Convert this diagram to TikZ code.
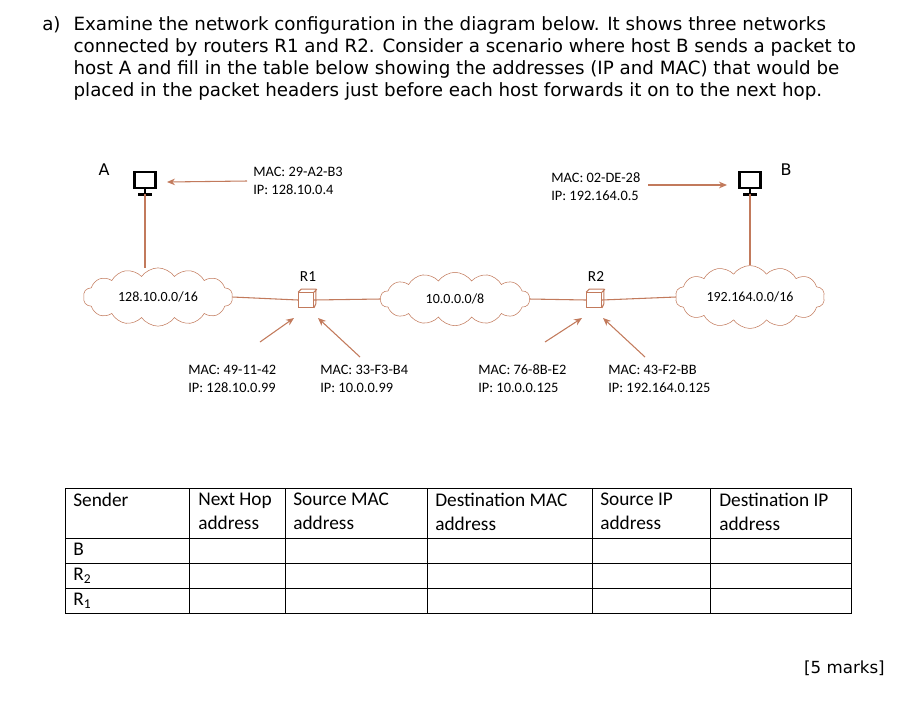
\documentclass[tikz,border=0pt]{standalone}
\usepackage{fontspec}
\setmainfont{DejaVu Sans}
\newfontfamily\labelfont{Carlito}
\usetikzlibrary{shapes.symbols,arrows.meta,positioning}
\definecolor{LBrown}{HTML}{C27A5C}
\newcommand{\qlabel}[1]{\makebox[23.5pt][l]{#1}}
\tikzset{
    net/.style = {draw=LBrown, cloud, cloud puffs=14, cloud puff arc=110, aspect=2.8,
        minimum width=112pt, minimum height=40pt, font=\labelfont\fontsize{10.5}{12}\selectfont},
    router/.style = {draw=LBrown, rectangle, minimum size=11pt, inner sep=0pt, thick},
    host/.style = {draw=black, rectangle, line width=2.2pt, minimum width=16pt, minimum height=12pt, inner sep=0pt},
    addr/.style = {anchor=west, align=left, inner sep=0pt, font=\labelfont\fontsize{10.8}{13.5}\selectfont},
    link/.style = {draw=LBrown, thick},
    arrow/.style = {draw=LBrown, thick, -{Stealth[length=6pt,width=5pt]}},
    cell/.style = {anchor=north west, align=left, inner sep=0pt, font=\labelfont\fontsize{14.5}{18}\selectfont}
}
\begin{document}
\begin{tikzpicture}[x=0.75pt,y=-0.75pt]
    \useasboundingbox (0,0) rectangle (912,701);
    \node[anchor=north west, align=left, inner sep=0pt, font=\fontsize{13.7}{16.5}\selectfont] (task) at (42,16)
        {\qlabel{a)}Examine the network configuration in the diagram below. It shows three networks\\
        \qlabel{}connected by routers R1 and R2. Consider a scenario where host B sends a packet to\\
        \qlabel{}host A and fill in the table below showing the addresses (IP and MAC) that would be\\
        \qlabel{}placed in the packet headers just before each host forwards it on to the next hop.};
    % hosts
    \node[host] (hA) at (145,180) {};
    \draw[line width=2.2pt] (hA.south) -- ++(0,5) coordinate (hAb);
    \draw[line width=2.2pt] ([xshift=-5pt]hAb) -- ([xshift=5pt]hAb);
    \node[font=\fontsize{12}{12}\selectfont] (lA) at (104,170) {A};
    \node[host] (hB) at (750,180) {};
    \draw[line width=2.2pt] (hB.south) -- ++(0,5) coordinate (hBb);
    \draw[line width=2.2pt] ([xshift=-5pt]hBb) -- ([xshift=5pt]hBb);
    \node[font=\fontsize{12}{12}\selectfont] (lB) at (786,170) {B};
    % networks
    \node[net] (n1) at (158,297) {128.10.0.0/16};
    \node[net] (n2) at (455,299) {10.0.0.0/8};
    \node[net] (n3) at (750,297) {192.164.0.0/16};
    % routers
    \node[router] (r1) at (306,300) {};
    \draw[LBrown, thick] (r1.north west) -- ++(3,-3) -- ++(14.7,0) -- ++(0,14.7) -- (r1.south east)
        (r1.north east) -- ++(3,-3);
    \node[font=\labelfont\fontsize{11.5}{12}\selectfont] (lr1) at (308,277) {R1};
    \node[router] (r2) at (594,300) {};
    \draw[LBrown, thick] (r2.north west) -- ++(3,-3) -- ++(14.7,0) -- ++(0,14.7) -- (r2.south east)
        (r2.north east) -- ++(3,-3);
    \node[font=\labelfont\fontsize{11.5}{12}\selectfont] (lr2) at (596,277) {R2};
    % links
    \draw[link] (hAb) -- (hAb |- n1.north);
    \draw[link] (hBb) -- (hBb |- n3.north);
    \draw[link] (n1.east) -- (r1.west);
    \draw[link] (r1.east) -- (n2.west);
    \draw[link] (n2.east) -- (r2.west);
    \draw[link] (r2.east) -- (n3.west);
    % addresses
    \node[addr] (aA) at (253,181) {MAC: 29-A2-B3\\IP: 128.10.0.4};
    \node[addr] (aB) at (551,187) {MAC: 02-DE-28\\IP: 192.164.0.5};
    \node[addr] (a1) at (188,379) {MAC: 49-11-42\\IP: 128.10.0.99};
    \node[addr] (a2) at (320,379) {MAC: 33-F3-B4\\IP: 10.0.0.99};
    \node[addr] (a3) at (478,379) {MAC: 76-8B-E2\\IP: 10.0.0.125};
    \node[addr] (a4) at (608,379) {MAC: 43-F2-BB\\IP: 192.164.0.125};
    \coordinate (pA) at (247,181);
    \coordinate (pB) at (648,185);
    \coordinate (p1) at (260,342);
    \coordinate (p2) at (360,357);
    \coordinate (p3) at (545,342);
    \coordinate (p4) at (645,357);
    \draw[arrow] (pA) -- (167,182);
    \draw[arrow] (pB) -- (727,185);
    \draw[arrow] (p1) -- (294,318);
    \draw[arrow] (p2) -- (318,318);
    \draw[arrow] (p3) -- (582,318);
    \draw[arrow] (p4) -- (603,318);
    % table
    \draw[line width=0.6pt] (65,488) rectangle (851,613);
    \foreach \y in {538,563,588} \draw[line width=0.6pt] (65,\y) -- (851,\y);
    \foreach \x in {189,285,427,592,710} \draw[line width=0.6pt] (\x,488) -- (\x,613);
    \node[cell] (c1) at (73,493) {Sender};
    \node[cell] (c2) at (198,493) {Next Hop\\address};
    \node[cell] (c3) at (293,493) {Source MAC\\address};
    \node[cell] (c4) at (435,493) {Destination MAC\\address};
    \node[cell] (c5) at (600,493) {Source IP\\address};
    \node[cell] (c6) at (719,493) {Destination IP\\address};
    \node[cell] (s1) at (73,543) {B};
    \node[cell] (s2) at (73,568) {R\textsubscript{2}};
    \node[cell] (s3) at (73,593) {R\textsubscript{1}};
    \node[anchor=east, inner sep=0pt, font=\fontsize{12.5}{15}\selectfont] (marks) at (885,668) {[5 marks]};
\end{tikzpicture}
\end{document}
